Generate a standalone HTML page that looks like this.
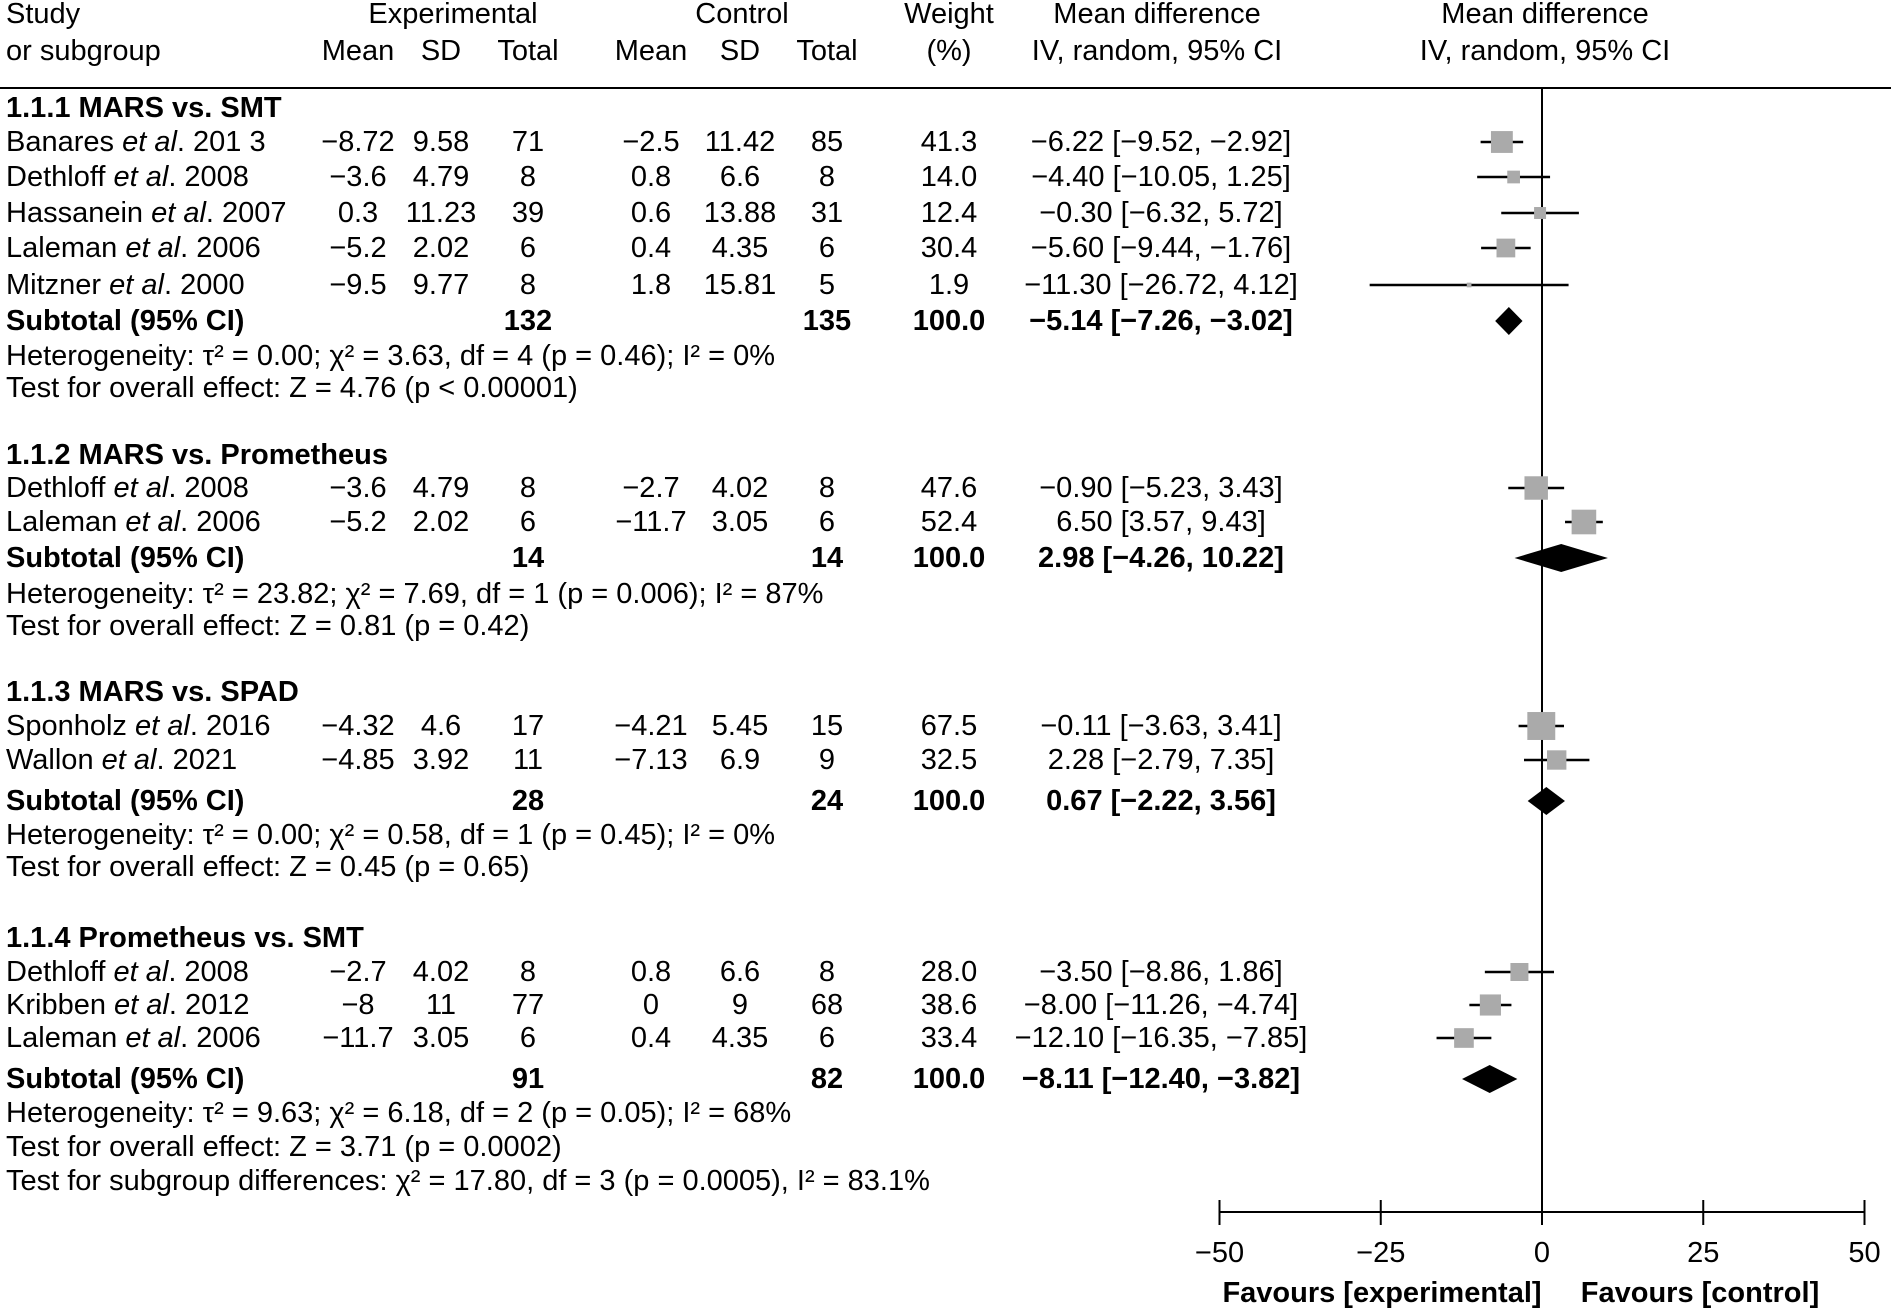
<!DOCTYPE html>
<html><head><meta charset="utf-8"><style>
html,body{margin:0;padding:0;background:#fff}
svg{display:block}
text{font-family:"Liberation Sans",sans-serif;font-size:29px;fill:#000;dominant-baseline:central}
.b{font-weight:bold}
.i{font-style:italic}
</style></head><body>
<svg id="c" width="1891" height="1311" viewBox="0 0 1891 1311"></svg>
<script>
const studyNames=["Banares","Dethloff","Hassanein","Laleman","Mitzner","Dethloff","Laleman","Sponholz","Wallon","Dethloff","Kribben","Laleman"];
const studyYears=["201 3","2008","2007","2006","2000","2008","2006","2016","2021","2008","2012","2006"];
const studyY=[142,177,213,248,285,488,522,726,760,972,1005,1038];
const expMean=["−8.72","−3.6","0.3","−5.2","−9.5","−3.6","−5.2","−4.32","−4.85","−2.7","−8","−11.7"];
const expSD=["9.58","4.79","11.23","2.02","9.77","4.79","2.02","4.6","3.92","4.02","11","3.05"];
const expN=["71","8","39","6","8","8","6","17","11","8","77","6"];
const ctlMean=["−2.5","0.8","0.6","0.4","1.8","−2.7","−11.7","−4.21","−7.13","0.8","0","0.4"];
const ctlSD=["11.42","6.6","13.88","4.35","15.81","4.02","3.05","5.45","6.9","6.6","9","4.35"];
const ctlN=["85","8","31","6","5","8","6","15","9","8","68","6"];
const weights=[41.3,14.0,12.4,30.4,1.9,47.6,52.4,67.5,32.5,28.0,38.6,33.4];
const md=[-6.22,-4.40,-0.30,-5.60,-11.30,-0.90,6.50,-0.11,2.28,-3.50,-8.00,-12.10];
const lo=[-9.52,-10.05,-6.32,-9.44,-26.72,-5.23,3.57,-3.63,-2.79,-8.86,-11.26,-16.35];
const hi=[-2.92,1.25,5.72,-1.76,4.12,3.43,9.43,3.41,7.35,1.86,-4.74,-7.85];
const subNames=["1.1.1 MARS vs. SMT","1.1.2 MARS vs. Prometheus","1.1.3 MARS vs. SPAD","1.1.4 Prometheus vs. SMT"];
const subHeadY=[108,455,692,938];
const subY=[321,558,801,1079];
const subExpN=["132","14","28","91"];
const subCtlN=["135","14","24","82"];
const subMd=[-5.14,2.98,0.67,-8.11];
const subLo=[-7.26,-4.26,-2.22,-12.40];
const subHi=[-3.02,10.22,3.56,-3.82];
const hetTxt=["Heterogeneity: τ² = 0.00; χ² = 3.63, df = 4 (p = 0.46); I² = 0%","Heterogeneity: τ² = 23.82; χ² = 7.69, df = 1 (p = 0.006); I² = 87%","Heterogeneity: τ² = 0.00; χ² = 0.58, df = 1 (p = 0.45); I² = 0%","Heterogeneity: τ² = 9.63; χ² = 6.18, df = 2 (p = 0.05); I² = 68%"];
const effTxt=["Test for overall effect: Z = 4.76 (p < 0.00001)","Test for overall effect: Z = 0.81 (p = 0.42)","Test for overall effect: Z = 0.45 (p = 0.65)","Test for overall effect: Z = 3.71 (p = 0.0002)"];
const hetY=[356,594,835,1113];
const effY=[388,626,867,1147];
const ticks=[-50,-25,0,25,50];
const tickLabels=["−50","−25","0","25","50"];

const svg=document.getElementById('c');const NS="http://www.w3.org/2000/svg";
const X=v=>1542+v*6.45;
function fmt(v){return (v<0?"−":"")+Math.abs(v).toFixed(2);}
function el(tag,a,name){const e=document.createElementNS(NS,tag);for(const k in a)e.setAttribute(k,a[k]);


svg.appendChild(e);return e;}
function t(s,x,y,anchor,cls,name){const e=el('text',{x:x,y:y,'text-anchor':anchor||'start'},name);if(cls)e.setAttribute('class',cls);e.textContent=s;return e;}
t("Study",6,14,'start','','header-study');t("or subgroup",6,51,'start','','header-subgroup');
t("Experimental",453,14,'middle','','header-experimental');t("Control",742,14,'middle','','header-control');
t("Mean",358,51,'middle','','header-exp-mean');t("SD",441,51,'middle','','header-exp-sd');t("Total",528,51,'middle','','header-exp-total');
t("Mean",651,51,'middle','','header-ctl-mean');t("SD",740,51,'middle','','header-ctl-sd');t("Total",827,51,'middle','','header-ctl-total');
t("Weight",949,14,'middle','','header-weight');t("(%)",949,51,'middle','','header-weight-pct');
t("Mean difference",1157,14,'middle','','header-md');t("IV, random, 95% CI",1157,51,'middle','','header-md-ci');
t("Mean difference",1545,14,'middle','','header-plot-md');t("IV, random, 95% CI",1545,51,'middle','','header-plot-ci');
el('line',{x1:0,y1:88,x2:1891,y2:88,stroke:'#000','stroke-width':2},'header-rule');
el('line',{x1:X(0),y1:88,x2:X(0),y2:1212,stroke:'#000','stroke-width':2},'zero-line');
studyNames.forEach((s,i)=>{const y=studyY[i];
 const e=t(s+" ",6,y,'start','','study-name');
 const ts=document.createElementNS(NS,'tspan');ts.setAttribute('class','i');ts.textContent="et al";e.appendChild(ts);
 e.appendChild(document.createTextNode(". "+studyYears[i]));
 t(expMean[i],358,y,'middle','','exp-mean');t(expSD[i],441,y,'middle','','exp-sd');t(expN[i],528,y,'middle','','exp-total');
 t(ctlMean[i],651,y,'middle','','ctl-mean');t(ctlSD[i],740,y,'middle','','ctl-sd');t(ctlN[i],827,y,'middle','','ctl-total');
 t(weights[i].toFixed(1),949,y,'middle','','weight');
 t(fmt(md[i])+" ["+fmt(lo[i])+", "+fmt(hi[i])+"]",1161,y,'middle','','md-ci');
 el('line',{x1:X(lo[i]),y1:y,x2:X(hi[i]),y2:y,stroke:'#000','stroke-width':2.5},'ci-line');
 const sz=3.4*Math.sqrt(weights[i]);
 el('rect',{x:X(md[i])-sz/2,y:y-sz/2,width:sz,height:sz,fill:'#aaa'},'effect-square');
});
subNames.forEach((s,i)=>{
 t(s,6,subHeadY[i],'start','b','subgroup-title');
 const y=subY[i];
 t("Subtotal (95% CI)",6,y,'start','b','subtotal-label');
 t(subExpN[i],528,y,'middle','b','subtotal-exp-total');t(subCtlN[i],827,y,'middle','b','subtotal-ctl-total');
 t("100.0",949,y,'middle','b','subtotal-weight');
 t(fmt(subMd[i])+" ["+fmt(subLo[i])+", "+fmt(subHi[i])+"]",1161,y,'middle','b','subtotal-md-ci');
 el('polygon',{points:`${X(subLo[i])},${y} ${X(subMd[i])},${y-14} ${X(subHi[i])},${y} ${X(subMd[i])},${y+14}`,fill:'#000'},'subtotal-diamond');
 t(hetTxt[i],6,hetY[i],'start','','heterogeneity');
 t(effTxt[i],6,effY[i],'start','','overall-effect');
});
t("Test for subgroup differences: χ² = 17.80, df = 3 (p = 0.0005), I² = 83.1%",6,1181,'start','','subgroup-differences');
el('line',{x1:X(-50),y1:1212,x2:X(50),y2:1212,stroke:'#000','stroke-width':2},'x-axis');
ticks.forEach((v,i)=>{el('line',{x1:X(v),y1:1200,x2:X(v),y2:1225,stroke:'#000','stroke-width':2},'x-tick');
 t(tickLabels[i],X(v),1253,'middle','','x-tick-label');});
t("Favours [experimental]",1382,1293,'middle','b','favours-experimental');
t("Favours [control]",1700,1293,'middle','b','favours-control');
</script>
</body></html>
